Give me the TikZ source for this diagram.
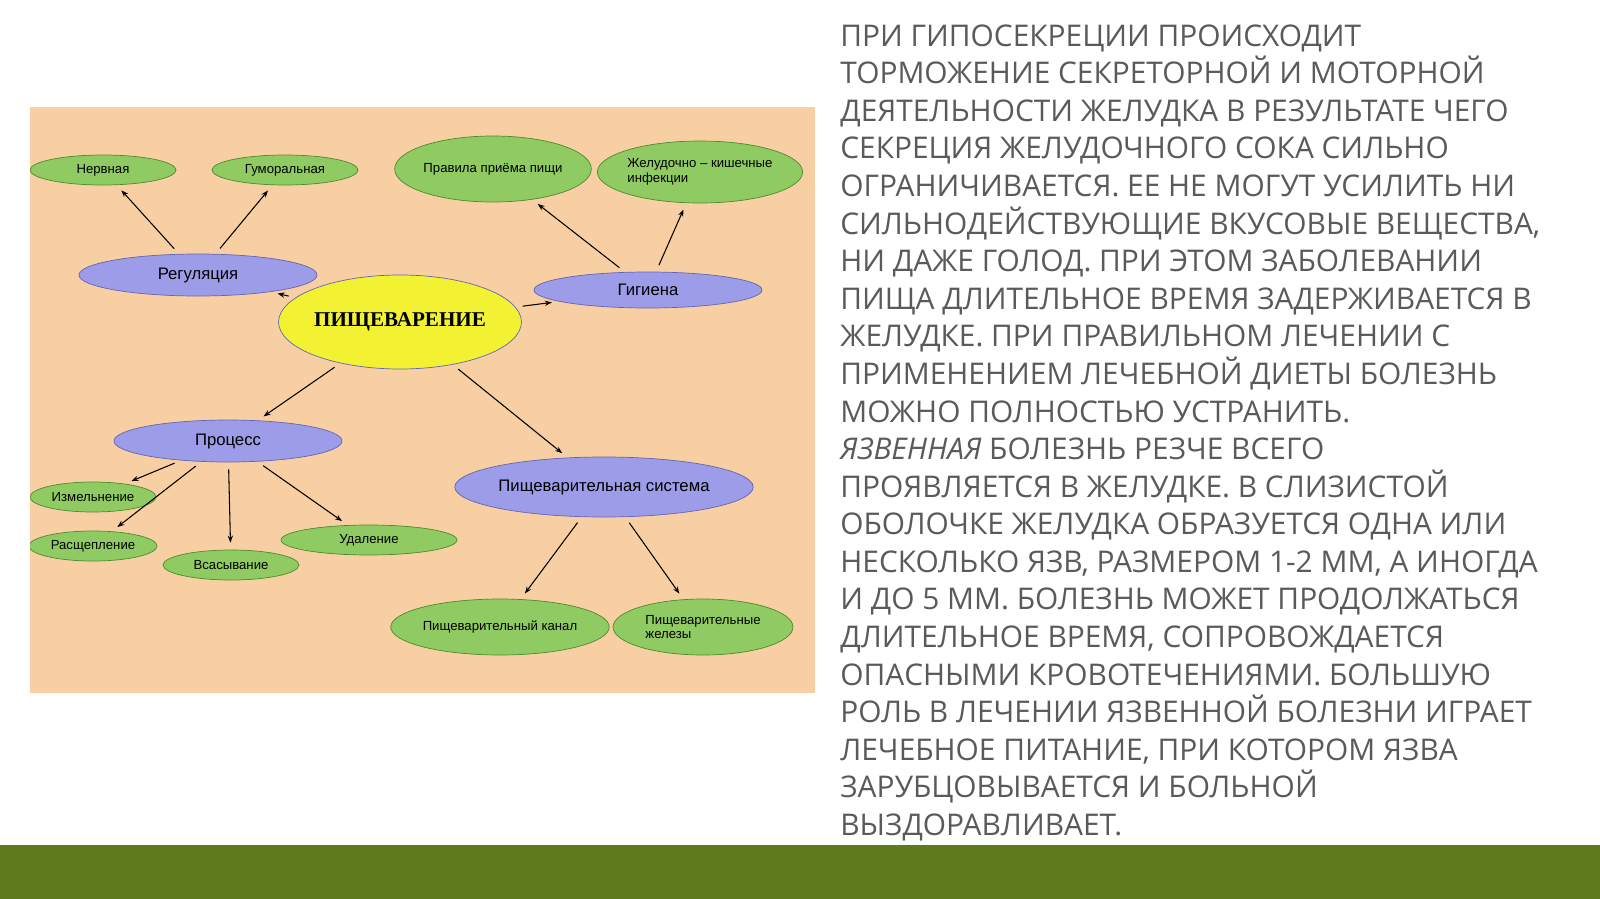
\documentclass[tikz,border=0pt]{standalone}
\usepackage{fontspec}
\setmainfont{Liberation Sans}
\newfontfamily\txtfont{Open Sans}
\newfontfamily\titlefont{Liberation Serif}
\usetikzlibrary{shapes.geometric, arrows.meta}
\definecolor{peach}{HTML}{F8CFA2}
\definecolor{leaf}{HTML}{8FCB62}
\definecolor{leafline}{HTML}{4E8A2E}
\definecolor{lilac}{HTML}{9C9CE8}
\definecolor{lilacline}{HTML}{6464B4}
\definecolor{sun}{HTML}{F2F233}
\definecolor{barcol}{HTML}{5E7A1C}
\definecolor{txtgray}{HTML}{5A5A5A}
\begin{document}
\begin{tikzpicture}[x=0.02cm, y=-0.02cm,
  oval/.style 2 args={ellipse, inner sep=0pt, minimum width=#1*0.02cm, minimum height=#2*0.02cm},
  leafnode/.style={fill=leaf, draw=leafline, font=\fontsize{7.5}{8.5}\selectfont, align=left},
  lilacnode/.style={fill=lilac, draw=lilacline, font=\fontsize{9.5}{10}\selectfont},
  arr/.style={-{Stealth[length=4pt]}, shorten <=4pt, shorten >=4pt, semithick}]
  \useasboundingbox (0,0) rectangle (1600,899);
  \fill[barcol] (0,845) rectangle (1600,899);
  \fill[peach] (30,107) rectangle (815,693);

  \begin{scope}
  \clip (30,107) rectangle (815,693);
  \node[leafnode, oval={146}{30}] (nerv) at (103,170) {Нервная};
  \node[leafnode, oval={146}{30}] (gum) at (285,170) {Гуморальная};
  \node[leafnode, oval={180}{66}] (prav) at (493,169) {Правила приёма пищи};
  \node[leafnode, oval={198}{62}] (inf) at (700,172) {Желудочно -- кишечные\\инфекции};
  \node[lilacnode, oval={238}{42}] (reg) at (198,275) {Регуляция};
  \node[lilacnode, oval={228}{36}] (gig) at (648,290) {Гигиена};
  \node[fill=sun, draw=lilacline, oval={226}{94}, font=\titlefont\bfseries\fontsize{12}{13}\selectfont] (main) at (400,322) {ПИЩЕВАРЕНИЕ};
  \node[lilacnode, oval={228}{42}] (proc) at (228,441) {Процесс};
  \node[lilacnode, oval={278}{60}] (sys) at (604,487) {Пищеварительная система};
  \node[leafnode, oval={126}{30}] (izm) at (93,497) {Измельнение};
  \node[leafnode, oval={128}{30}] (ras) at (93,546) {Расщепление};
  \node[leafnode, oval={136}{30}] (vsa) at (231,565) {Всасывание};
  \node[leafnode, oval={176}{30}] (uda) at (369,540) {Удаление};
  \node[leafnode, oval={190}{56}] (kan) at (500,627) {Пищеварительный канал};
  \node[leafnode, oval={180}{56}] (zhel) at (703,627) {Пищеварительные\\железы};
  \end{scope}

  \draw[arr] (reg) -- (nerv);
  \draw[arr] (reg) -- (gum);
  \draw[arr] (gig) -- (prav);
  \draw[arr] (gig) -- (inf);
  \draw[arr] (main) -- (reg);
  \draw[arr] (main) -- (gig);
  \draw[arr] (main) -- (proc);
  \draw[arr] (main) -- (sys);
  \draw[arr] (proc) -- (izm);
  \draw[arr] (proc) -- (ras);
  \draw[arr] (proc) -- (vsa);
  \draw[arr] (proc) -- (uda);
  \draw[arr] (sys) -- (kan);
  \draw[arr] (sys) -- (zhel);

  \node[anchor=north west, inner sep=0pt, align=left, text=txtgray,
    font=\txtfont\fontsize{17}{21.4}\selectfont] (body) at (840,24) {%
ПРИ ГИПОСЕКРЕЦИИ ПРОИСХОДИТ\\
ТОРМОЖЕНИЕ СЕКРЕТОРНОЙ И МОТОРНОЙ\\
ДЕЯТЕЛЬНОСТИ ЖЕЛУДКА В РЕЗУЛЬТАТЕ ЧЕГО\\
СЕКРЕЦИЯ ЖЕЛУДОЧНОГО СОКА СИЛЬНО\\
ОГРАНИЧИВАЕТСЯ. ЕЕ НЕ МОГУТ УСИЛИТЬ НИ\\
СИЛЬНОДЕЙСТВУЮЩИЕ ВКУСОВЫЕ ВЕЩЕСТВА,\\
НИ ДАЖЕ ГОЛОД. ПРИ ЭТОМ ЗАБОЛЕВАНИИ\\
ПИЩА ДЛИТЕЛЬНОЕ ВРЕМЯ ЗАДЕРЖИВАЕТСЯ В\\
ЖЕЛУДКЕ. ПРИ ПРАВИЛЬНОМ ЛЕЧЕНИИ С\\
ПРИМЕНЕНИЕМ ЛЕЧЕБНОЙ ДИЕТЫ БОЛЕЗНЬ\\
МОЖНО ПОЛНОСТЬЮ УСТРАНИТЬ.\\
\textit{ЯЗВЕННАЯ} БОЛЕЗНЬ РЕЗЧЕ ВСЕГО\\
ПРОЯВЛЯЕТСЯ В ЖЕЛУДКЕ. В СЛИЗИСТОЙ\\
ОБОЛОЧКЕ ЖЕЛУДКА ОБРАЗУЕТСЯ ОДНА ИЛИ\\
НЕСКОЛЬКО ЯЗВ, РАЗМЕРОМ 1-2 ММ, А ИНОГДА\\
И ДО 5 ММ. БОЛЕЗНЬ МОЖЕТ ПРОДОЛЖАТЬСЯ\\
ДЛИТЕЛЬНОЕ ВРЕМЯ, СОПРОВОЖДАЕТСЯ\\
ОПАСНЫМИ КРОВОТЕЧЕНИЯМИ. БОЛЬШУЮ\\
РОЛЬ В ЛЕЧЕНИИ ЯЗВЕННОЙ БОЛЕЗНИ ИГРАЕТ\\
ЛЕЧЕБНОЕ ПИТАНИЕ, ПРИ КОТОРОМ ЯЗВА\\
ЗАРУБЦОВЫВАЕТСЯ И БОЛЬНОЙ\\
ВЫЗДОРАВЛИВАЕТ.};
\end{tikzpicture}
\end{document}
